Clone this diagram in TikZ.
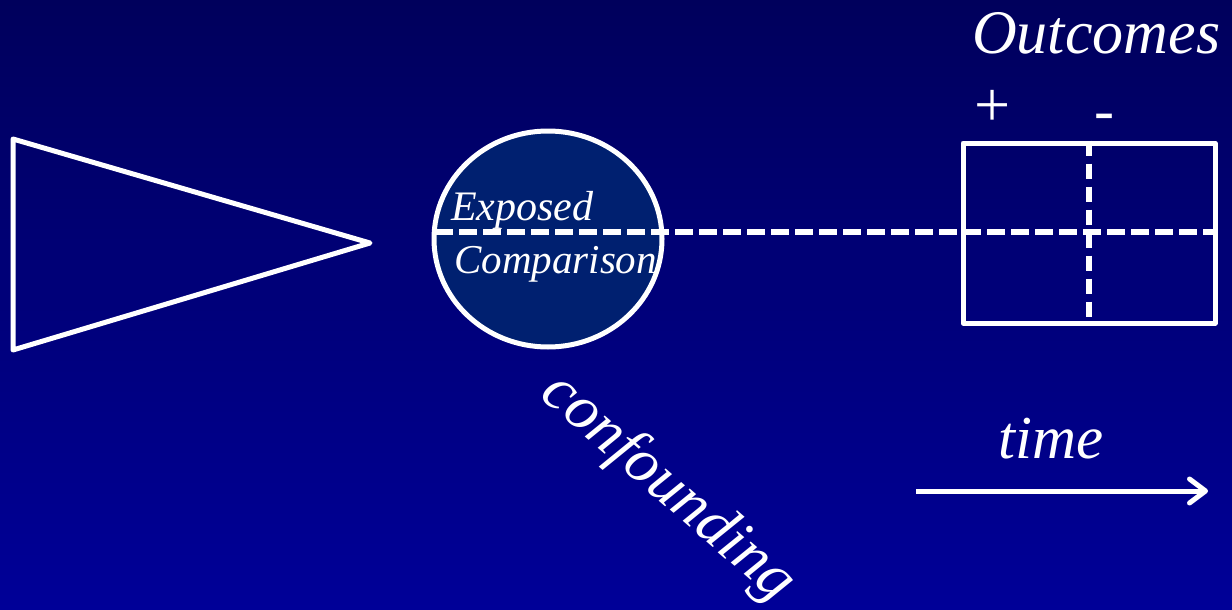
\documentclass[tikz,border=0pt]{standalone}
\usepackage{fontspec}
\setmainfont{Liberation Serif}
\usetikzlibrary{shapes.geometric,arrows.meta}
\definecolor{bgtop}{RGB}{0,0,92}
\definecolor{bgbot}{RGB}{0,0,152}
\definecolor{circfill}{RGB}{0,32,112}
\begin{document}
\begin{tikzpicture}[x=1pt,y=-1pt,
  wline/.style={draw=white, line width=5pt, line join=round},
  hdash/.style={draw=white, line width=5.5pt, dash pattern=on 18pt off 6pt},
  vdash/.style={draw=white, line width=5.5pt, dash pattern=on 15pt off 8pt},
  lbl/.style={text=white, inner sep=0pt}]
\fill[top color=bgtop,bottom color=bgbot] (0,0) rectangle (1232,610);
\useasboundingbox (0,0) rectangle (1232,610);
% triangle
\draw[wline] (13,139) -- (370,243) -- (13,350) -- cycle;
% circle
\node[ellipse, wline, fill=circfill, minimum width=228pt, minimum height=216pt, inner sep=0pt] (circ) at (548,239) {};
% outcome box
\node[rectangle, wline, minimum width=252pt, minimum height=180pt, inner sep=0pt] (box) at (1089,233) {};
\coordinate (dstart) at (435,232);
\draw[hdash] (dstart) -- (dstart -| box.east);
\draw[vdash] (box.north) -- (box.south);
% labels
\node[lbl, font=\itshape\fontsize{42}{42}\selectfont, anchor=base west] (exp) at (451,220) {Exposed};
\node[lbl, font=\itshape\fontsize{41}{41}\selectfont, anchor=base west] (comp) at (454,273) {Comparison};
\node[lbl, font=\itshape\fontsize{62}{62}\selectfont, anchor=base west] (outc) at (972,54) {Outcomes};
\node[lbl, font=\fontsize{64}{64}\selectfont, anchor=base] (plus) at (993,126) {+};
\node[lbl, font=\fontsize{60}{60}\selectfont, anchor=base] (minus) at (1104,130) {-};
\node[lbl, font=\itshape\fontsize{63}{63}\selectfont, rotate=-41] (conf) at (668,488) {confounding};
\node[lbl, font=\itshape\fontsize{61}{61}\selectfont, anchor=base west] (time) at (998,458) {time};
% time arrow
\coordinate (t0) at (916,491);
\coordinate (t1) at (1208,491);
\draw[white, line width=5pt, -{Straight Barb[length=16pt,width=24pt,line cap=round,line join=round]}] (t0) -- (t1);
\end{tikzpicture}
\end{document}
